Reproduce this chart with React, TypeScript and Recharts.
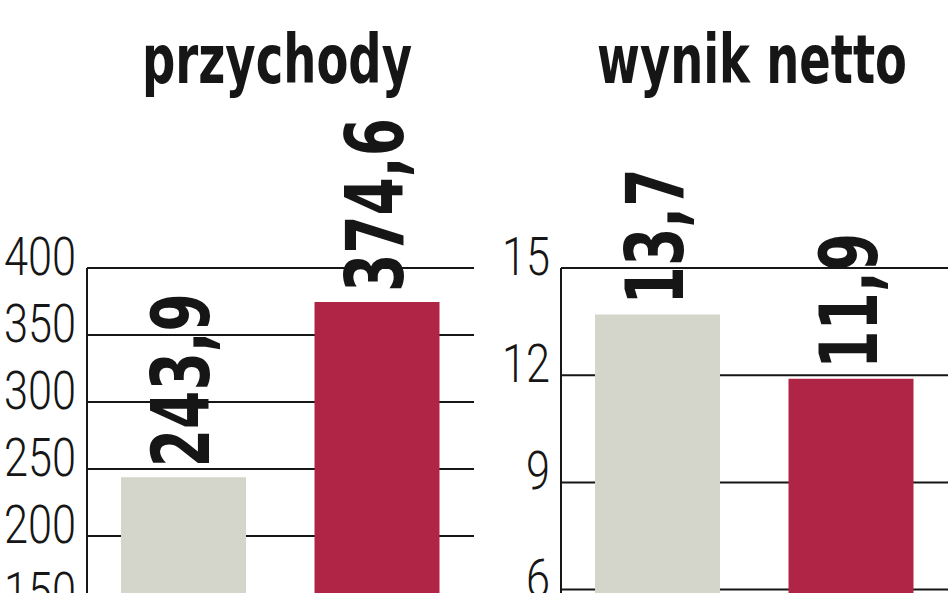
import { Bar, BarChart, CartesianGrid, Cell, LabelList, XAxis, YAxis } from "recharts";

const periods = ["okres 1", "okres 2"];
const revenue = [243.9, 374.6];
const netIncome = [13.7, 11.9];
const revenueTicks = [0, 50, 100, 150, 200, 250, 300, 350, 400];
const netTicks = [0, 3, 6, 9, 12, 15];
const barColors = ["#d4d5cb", "#b02445"];
const titles = ["przychody", "wynik netto"];

const ink = "#161616";
const boldFont = "'DejaVu Sans Condensed', 'DejaVu Sans', sans-serif";
const lightFont = "Roboto, 'Open Sans', sans-serif";

function fmt(v: number) {
  return v.toFixed(1).replace(".", ",");
}

function Tick({ x, y, payload }: any) {
  const s = String(payload.value);
  return (
    <text
      x={x}
      y={y + 7}
      textAnchor="end"
      fontFamily={lightFont}
      fontWeight={300}
      fontSize={53}
      fill={ink}
      textLength={s.length * 24}
      lengthAdjust="spacingAndGlyphs"
    >
      {s}
    </text>
  );
}

function ValueLabel({ x, y, width, value }: any) {
  const s = fmt(Number(value));
  const cx = Number(x) + Number(width) / 2 - 3;
  const y0 = Number(y) - 10;
  const len = s.replace(",", "").length * 38 + 22;
  return (
    <text
      x={cx}
      y={y0}
      dy={29}
      transform={`rotate(-90, ${cx}, ${y0})`}
      textAnchor="start"
      fontFamily={boldFont}
      fontWeight={700}
      fontSize={80}
      fill={ink}
      textLength={len}
      lengthAdjust="spacingAndGlyphs"
    >
      {s}
    </text>
  );
}

function Panel({ values, ticks, max }: { values: number[]; ticks: number[]; max: number }) {
  const data = periods.map((name, i) => ({ name, value: values[i] }));
  return (
    <BarChart width={474} height={820} data={data} margin={{ top: 268, right: 0, bottom: 16, left: 0 }}>
      <CartesianGrid vertical={false} stroke={ink} strokeWidth={2} strokeOpacity={1} />
      <XAxis dataKey="name" hide />
      <YAxis
        width={87}
        domain={[0, max]}
        ticks={ticks}
        interval={0}
        tickSize={0}
        tickMargin={11}
        tickLine={false}
        axisLine={{ stroke: ink, strokeWidth: 2 }}
        tick={<Tick />}
      />
      <Bar dataKey="value" barSize={125} isAnimationActive={false}>
        {data.map((d, i) => (
          <Cell key={d.name} fill={barColors[i]} />
        ))}
        <LabelList dataKey="value" content={<ValueLabel />} />
      </Bar>
    </BarChart>
  );
}

export default function App() {
  return (
    <div
      style={{
        position: "fixed",
        top: 0,
        left: 0,
        width: 948,
        height: 593,
        overflow: "hidden",
        background: "#fff",
      }}
    >
      <div style={{ position: "absolute", left: 0, top: 0 }}>
        <Panel values={revenue} ticks={revenueTicks} max={400} />
      </div>
      <div style={{ position: "absolute", left: 474, top: 0 }}>
        <Panel values={netIncome} ticks={netTicks} max={15} />
      </div>
      <svg width={948} height={110} style={{ position: "absolute", left: 0, top: 0 }}>
        <text
          x={142}
          y={83}
          fontFamily={boldFont}
          fontWeight={700}
          fontSize={68}
          fill={ink}
          textLength={270}
          lengthAdjust="spacingAndGlyphs"
        >
          {titles[0]}
        </text>
        <text
          x={597}
          y={83}
          fontFamily={boldFont}
          fontWeight={700}
          fontSize={68}
          fill={ink}
          textLength={310}
          lengthAdjust="spacingAndGlyphs"
        >
          {titles[1]}
        </text>
      </svg>
    </div>
  );
}
